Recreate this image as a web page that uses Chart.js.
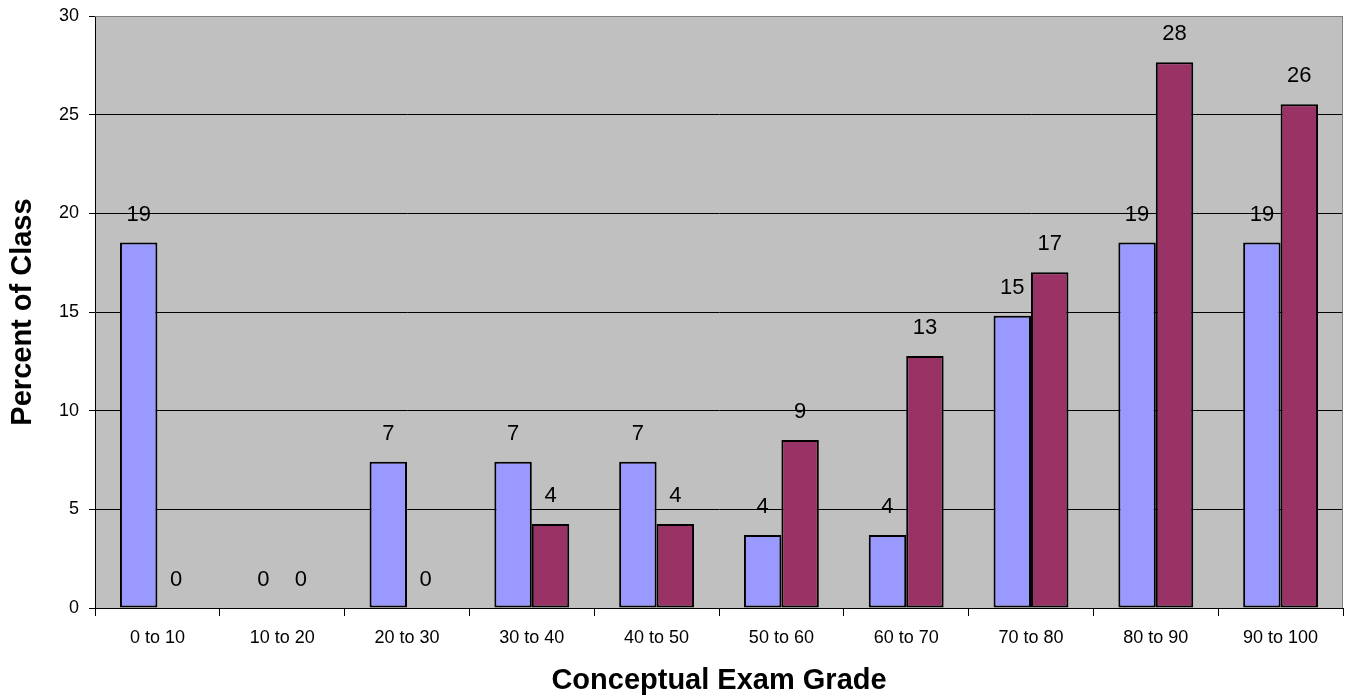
<!DOCTYPE html>
<html>
<head>
<meta charset="utf-8">
<script src="https://cdn.jsdelivr.net/npm/chart.js@4/dist/chart.umd.min.js"></script>
<style>
  html, body { margin: 0; padding: 0; background: #ffffff; }
  #wrap { width: 1351px; height: 700px; }
</style>
</head>
<body>
<div id="wrap"><canvas id="c" width="1351" height="700"></canvas></div>
<script>
const categories = ["0 to 10", "10 to 20", "20 to 30", "30 to 40", "40 to 50", "50 to 60", "60 to 70", "70 to 80", "80 to 90", "90 to 100"];
const seriesA = [18.52, 0, 7.41, 7.41, 7.41, 3.70, 3.70, 14.81, 18.52, 18.52];
const seriesB = [0, 0, 0, 4.26, 4.26, 8.51, 12.77, 17.02, 27.66, 25.53];
const yTicks = [0, 5, 10, 15, 20, 25, 30];
const xTitle = "Conceptual Exam Grade";
const yTitle = "Percent of Class";

const FONT = "'Liberation Sans', Arial, sans-serif";

const plotBg = {
  id: 'plotBg',
  beforeDraw(chart) {
    const {ctx, chartArea: a} = chart;
    ctx.save();
    ctx.fillStyle = '#C0C0C0';
    ctx.fillRect(a.left, a.top, a.right - a.left, a.bottom - a.top);
    ctx.restore();
  },
  beforeDatasetsDraw(chart) {
    const {ctx, chartArea: a} = chart;
    ctx.save();
    ctx.strokeStyle = '#808080';
    ctx.lineWidth = 1;
    ctx.beginPath();
    ctx.moveTo(a.left, a.top + 0.5);
    ctx.lineTo(a.right - 0.5, a.top + 0.5);
    ctx.lineTo(a.right - 0.5, a.bottom);
    ctx.stroke();
    ctx.restore();
  }
};

const valueLabels = {
  id: 'valueLabels',
  afterDatasetsDraw(chart) {
    const ctx = chart.ctx;
    ctx.save();
    ctx.font = '22px ' + FONT;
    ctx.fillStyle = '#000';
    ctx.textAlign = 'center';
    ctx.textBaseline = 'middle';
    chart.data.datasets.forEach((ds, di) => {
      const meta = chart.getDatasetMeta(di);
      meta.data.forEach((el, i) => {
        ctx.fillText(String(Math.round(ds.data[i])), el.x, el.y - 28);
      });
    });
    ctx.restore();
  }
};

new Chart(document.getElementById('c'), {
  type: 'bar',
  data: {
    labels: categories,
    datasets: [
      { data: seriesA, backgroundColor: '#9999FF', borderColor: '#000', borderWidth: 2, borderSkipped: false },
      { data: seriesB, backgroundColor: '#993366', borderColor: '#000', borderWidth: 2, borderSkipped: false }
    ]
  },
  options: {
    responsive: false,
    animation: false,
    layout: { padding: { top: 16, right: 8, left: 0, bottom: 0 } },
    datasets: { bar: { barPercentage: 1.0, categoryPercentage: 0.6 } },
    plugins: { legend: { display: false }, tooltip: { enabled: false } },
    scales: {
      x: {
        offset: true,
        afterFit(s) { s.height = 92; s.paddingLeft = 0; s.paddingRight = 0; },
        grid: { offset: true, drawOnChartArea: false, drawTicks: true, tickLength: 8, color: '#000', tickColor: '#000' },
        border: { color: '#000', width: 1 },
        ticks: { color: '#000', padding: 11, font: { family: FONT, size: 18 }, maxRotation: 0, autoSkip: false },
        title: { display: true, text: xTitle, color: '#000', font: { family: FONT, size: 29, weight: 'bold' }, padding: { top: 0, bottom: 2 } }
      },
      y: {
        min: 0, max: 30,
        afterFit(s) { s.width = 95; s.paddingTop = 0; s.paddingBottom = 0; },
        afterBuildTicks(s) { s.ticks = yTicks.map(v => ({ value: v })); },
        grid: {
          color: (c) => (c.tick && c.tick.value === 30) ? '#808080' : '#000',
          tickColor: '#000', tickLength: 6, lineWidth: 1
        },
        border: { color: '#000', width: 1 },
        ticks: { color: '#000', padding: 10, font: { family: FONT, size: 18 } },
        title: { display: true, text: yTitle, color: '#000', font: { family: FONT, size: 29, weight: 'bold' }, padding: { top: 6, bottom: 0 } }
      }
    }
  },
  plugins: [plotBg, valueLabels]
});
</script>
</body>
</html>
